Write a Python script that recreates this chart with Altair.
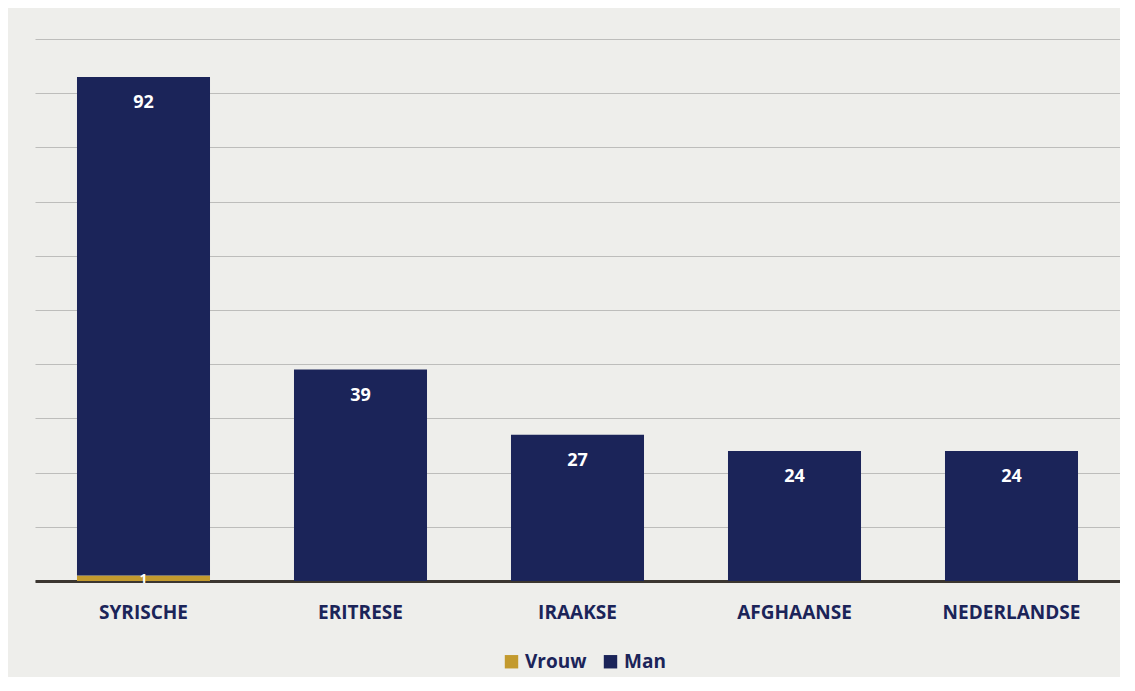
import altair as alt
import pandas as pd

categories = ["SYRISCHE", "ERITRESE", "IRAAKSE", "AFGHAANSE", "NEDERLANDSE"]
vrouw = [1, 0, 0, 0, 0]
man = [92, 39, 27, 24, 24]
series = ["Vrouw", "Man"]
colors = ["#c39a2e", "#1b2459"]
navy = "#1b2459"
FONT = "Open Sans"

rows = []
for c, v, m in zip(categories, vrouw, man):
    rows.append({"cat": c, "serie": "Vrouw", "val": v, "ord": 0, "total": v + m, "mid": v / 2})
    rows.append({"cat": c, "serie": "Man", "val": m, "ord": 1, "total": v + m, "mid": v / 2})
df = pd.DataFrame(rows)

xenc = alt.X(
    "cat:N",
    sort=categories,
    scale=alt.Scale(paddingInner=0.387, paddingOuter=0.1935),
    axis=alt.Axis(
        title=None,
        labelAngle=0,
        labelFont=FONT,
        labelFontSize=19,
        labelFontWeight="bold",
        labelColor=navy,
        labelPadding=22,
        ticks=False,
        domainColor="#3b3630",
        domainWidth=3,
    ),
)

bars = alt.Chart(df).mark_bar().encode(
    x=xenc,
    y=alt.Y(
        "val:Q",
        stack="zero",
        scale=alt.Scale(domain=[0, 100], nice=False),
        axis=alt.Axis(
            title=None,
            labels=False,
            ticks=False,
            domain=False,
            grid=True,
            values=[0, 10, 20, 30, 40, 50, 60, 70, 80, 90, 100],
            gridColor="#bdbdbb",
            gridWidth=1,
        ),
    ),
    color=alt.Color(
        "serie:N",
        scale=alt.Scale(domain=series, range=colors),
        legend=alt.Legend(
            title=None,
            orient="none",
            direction="horizontal",
            legendX=467,
            legendY=613,
            symbolType="square",
            symbolSize=180,
            symbolStrokeWidth=0,
            labelFont=FONT,
            labelFontSize=19,
            labelFontWeight="bold",
            labelColor=navy,
            columnPadding=14,
            labelOffset=4,
            padding=0,
        ),
    ),
    order=alt.Order("ord:Q"),
)

man_labels = alt.Chart(df).transform_filter("datum.serie == 'Man' && datum.val > 0").mark_text(
    font=FONT, fontSize=18, fontWeight="bold", color="white", baseline="middle", dy=26
).encode(
    x=alt.X("cat:N", sort=categories),
    y=alt.Y("total:Q"),
    text=alt.Text("val:Q"),
)

vrouw_labels = alt.Chart(df).transform_filter("datum.serie == 'Vrouw' && datum.val > 0").mark_text(
    font=FONT, fontSize=13, fontWeight="bold", color="white", baseline="middle", dy=1
).encode(
    x=alt.X("cat:N", sort=categories),
    y=alt.Y("mid:Q"),
    text=alt.Text("val:Q"),
)

chart = (
    alt.layer(bars, man_labels, vrouw_labels)
    .properties(
        width=1085,
        height=542,
        autosize=alt.AutoSizeParams(type="none"),
        padding={"left": 27, "top": 31, "right": 0, "bottom": 96},
        background="#eeeeeb",
    )
    .configure_view(stroke=None)
)

chart.save("out.html", embed_options={"renderer": "svg", "actions": False})
